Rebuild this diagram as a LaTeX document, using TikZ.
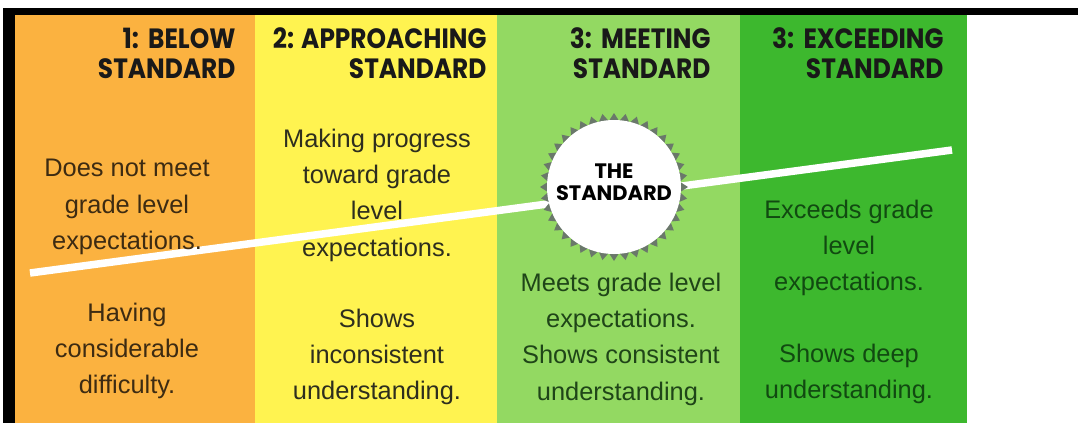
\documentclass[tikz,border=0pt]{standalone}
\usepackage{fontspec}
\setmainfont{Liberation Sans}
\newfontfamily\headfont{Poppins}[FakeStretch=0.89]
\newfontfamily\badgefont{Poppins}
\usetikzlibrary{positioning}
\usetikzlibrary{shapes.geometric}

\definecolor{colbelow}{HTML}{FBB240}
\definecolor{colappr}{HTML}{FFF350}
\definecolor{colmeet}{HTML}{93D962}
\definecolor{colexc}{HTML}{3DB82E}
\definecolor{txtbelow}{HTML}{3D2B12}
\definecolor{txtappr}{HTML}{2E2E1E}
\definecolor{txtmeet}{HTML}{1F4518}
\definecolor{txtexc}{HTML}{114A11}
\definecolor{teeth}{HTML}{6A786A}

\begin{document}
\begin{tikzpicture}[x=1bp, y=-1bp,
    heading/.style={anchor=east, align=right, text=black!90,
        font=\headfont\bfseries\fontsize{28}{30}\selectfont},
    body/.style={align=center, font=\fontsize{25.5}{36.5}\selectfont}]
    \useasboundingbox (0,0) rectangle (1078,423);
    \fill[white] (0,0) rectangle (1078,423);

    % columns
    \foreach \xa/\xb/\col in {15/255/colbelow, 255/497/colappr,
                              497/740/colmeet, 740/967/colexc}
        \fill[\col] (\xa,15) rectangle (\xb,423);

    % frame
    \fill[black] (3,8) rectangle (1078,15);
    \fill[black] (3,8) rectangle (15,423);

    % headings
    \node[heading] (h1) at (239,53) {1:\,\,BELOW\\STANDARD};
    \node[heading] (h2) at (490,53) {2: APPROACHING\\STANDARD};
    \node[heading] (h3) at (714,53) {3:\,\,MEETING\\STANDARD};
    \node[heading] (h4) at (947,53) {3:\,\,EXCEEDING\\STANDARD};

    % the rising line
    \coordinate (lineL) at (30,273);
    \coordinate (lineR) at (952,150);
    \draw[white, line width=7.5bp] (lineL) -- (lineR);

    % badge
    \node[star, star points=40, star point ratio=1.12, fill=teeth,
          minimum size=148bp, inner sep=0] (teeth) at (614,187) {};
    \node[circle, fill=white, minimum size=134bp, inner sep=0] (badge) at (614,187) {};
    \node[align=center, font=\badgefont\bfseries\fontsize{21}{22}\selectfont]
        (badgetxt) at (614,182) {THE\\STANDARD};

    % descriptions
    \node[body, text=txtbelow] (b1) at (127,207) {Does not meet\\grade level\\expectations.};
    \node[body, text=txtbelow] (b2) at (127,351) {Having\\considerable\\difficulty.};
    \node[body, text=txtappr] (a1) at (377,195) {Making progress\\toward grade\\level\\expectations.};
    \node[body, text=txtappr] (a2) at (377,357) {Shows\\inconsistent\\understanding.};
    \node[body, text=txtmeet] (m1) at (621,339) {Meets grade level\\expectations.\\Shows consistent\\understanding.};
    \node[body, text=txtexc] (e1) at (849,248) {Exceeds grade\\level\\expectations.};
    \node[body, text=txtexc] (e2) at (849,374) {Shows deep\\understanding.};
\end{tikzpicture}
\end{document}
